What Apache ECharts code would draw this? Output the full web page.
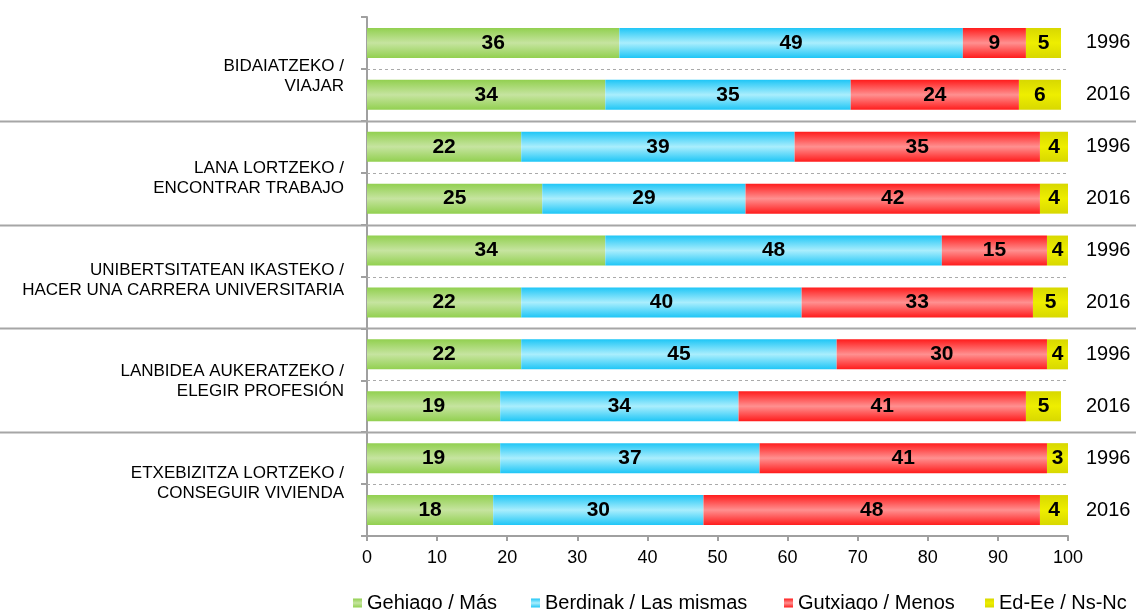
<!DOCTYPE html>
<html><head><meta charset="utf-8">
<script src="https://cdn.jsdelivr.net/npm/echarts@6/dist/echarts.min.js"></script>
<style>html,body{margin:0;padding:0;background:#fff}#c{width:1136px;height:610px}</style>
</head><body><div id="c"></div>
<script>
const groups = ['BIDAIATZEKO /\nVIAJAR', 'LANA LORTZEKO /\nENCONTRAR TRABAJO', 'UNIBERTSITATEAN IKASTEKO /\nHACER UNA CARRERA UNIVERSITARIA', 'LANBIDEA AUKERATZEKO /\nELEGIR PROFESIÓN', 'ETXEBIZITZA LORTZEKO /\nCONSEGUIR VIVIENDA'];
const years = ['1996', '2016'];
const seriesNames = ['Gehiago / Más', 'Berdinak / Las mismas', 'Gutxiago / Menos', 'Ed-Ee / Ns-Nc'];
const gehiago = [36, 34, 22, 25, 34, 22, 22, 19, 19, 18];
const berdinak = [49, 35, 39, 29, 48, 40, 45, 34, 37, 30];
const gutxiago = [9, 24, 35, 42, 15, 33, 30, 41, 41, 48];
const edee = [5, 6, 4, 4, 4, 5, 4, 5, 3, 4];
const xMin = 0, xMax = 100, xInterval = 10;

const FONT = "'Liberation Sans', Arial, sans-serif";
const rows = [];
groups.forEach((g, i) => years.forEach(y => rows.push(i + '|' + y)));

function grad(edge, mid) {
  return new echarts.graphic.LinearGradient(0, 0, 0, 1, [
    {offset: 0, color: edge}, {offset: 0.5, color: mid}, {offset: 1, color: edge}
  ]);
}
const fills = [
  grad('#92D050', '#C6E4A0'),
  grad('#1FC6F6', '#AAEEFD'),
  grad('#FF1C1C', '#FF9090'),
  grad('#D8D800', '#EEEE00')
];
const values = [gehiago, berdinak, gutxiago, edee];
const legendLeft = [353, 531, 784, 985];

const axisGray = '#A0A0A0';
const option = {
  animation: false,
  textStyle: {fontFamily: FONT},
  grid: [
    {left: 367, right: 68, top: 17, bottom: 74},
    {left: 367, right: 68, top: 26, bottom: 76}
  ],
  legend: seriesNames.map((n, i) => ({
    data: [n], left: legendLeft[i], top: 593, padding: 0, itemWidth: 9, itemHeight: 9,
    icon: 'rect', selectedMode: false,
    textStyle: {fontSize: 20, color: '#000', fontFamily: FONT}
  })),
  xAxis: [
    {gridIndex: 0, type: 'value', min: xMin, max: xMax, interval: xInterval,
     axisLine: {show: true, lineStyle: {color: axisGray, width: 2}},
     axisTick: {show: true, length: 5, lineStyle: {color: axisGray, width: 2}},
     splitLine: {show: false},
     axisLabel: {fontSize: 18, color: '#000', margin: 13, fontFamily: FONT}},
    {gridIndex: 1, type: 'value', min: xMin, max: xMax, show: false}
  ],
  yAxis: [
    {gridIndex: 0, type: 'category', data: rows, inverse: true, position: 'left',
     axisLine: {show: true, lineStyle: {color: axisGray, width: 2}},
     axisTick: {show: true, length: 6, lineStyle: {color: axisGray, width: 2}},
     axisLabel: {show: false}, splitLine: {show: false}},
    {gridIndex: 0, type: 'category', data: rows, inverse: true, position: 'right',
     axisLine: {show: false}, axisTick: {show: false},
     axisLabel: {show: true, fontSize: 20, color: '#000', margin: 18, fontFamily: FONT,
       formatter: v => v.split('|')[1]}},
    {gridIndex: 1, type: 'category', data: groups, inverse: true, position: 'left',
     axisLine: {show: false}, axisTick: {show: false},
     axisLabel: {show: true, fontSize: 17, lineHeight: 20, color: '#000', margin: 23,
       align: 'right', fontFamily: FONT}}
  ],
  series: seriesNames.map((n, i) => ({
    name: n, type: 'bar', stack: 'total', xAxisIndex: 0, yAxisIndex: 0,
    barWidth: 30, data: values[i],
    itemStyle: {color: fills[i]},
    label: {show: true, position: 'inside', color: '#000', fontWeight: 'bold',
      fontSize: 21, fontFamily: FONT}
  }))
};

const chart = echarts.init(document.getElementById('c'));
chart.setOption(option);

const x0 = chart.convertToPixel({xAxisIndex: 0}, xMin);
const x1 = chart.convertToPixel({xAxisIndex: 0}, xMax);
const W = chart.getWidth();
const lines = [];
for (let i = 1; i < rows.length; i++) {
  const a = chart.convertToPixel({yAxisIndex: 0}, rows[i - 1]);
  const b = chart.convertToPixel({yAxisIndex: 0}, rows[i]);
  const y = Math.round((a + b) / 2) + 0.5;
  if (i % 2 === 0) {
    lines.push({type: 'line', shape: {x1: 0, y1: y, x2: W, y2: y}, z: 5,
      style: {stroke: '#A6A6A6', lineWidth: 2}});
  } else {
    lines.push({type: 'line', shape: {x1: x0, y1: y, x2: x1, y2: y}, z: 5,
      style: {stroke: '#AAAAAA', lineWidth: 1, lineDash: [3, 3]}});
  }
}
chart.setOption({graphic: lines});
</script></body></html>
